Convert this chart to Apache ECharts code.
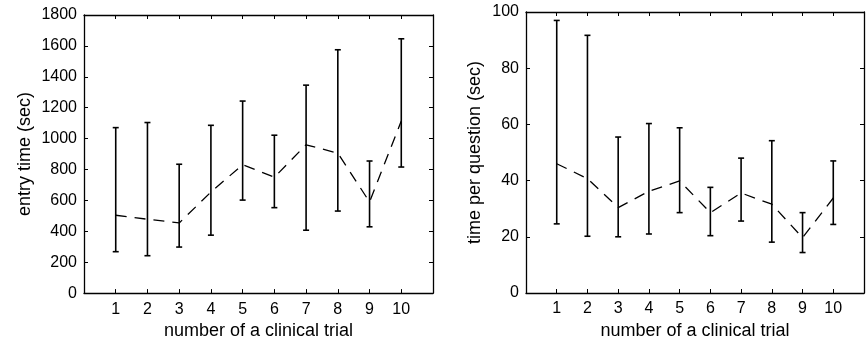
<!DOCTYPE html>
<html><head><meta charset="utf-8">
<script src="https://cdn.jsdelivr.net/npm/echarts@6/dist/echarts.min.js"></script>
<style>html,body{margin:0;padding:0;background:#fff}#c{width:867px;height:345px}</style>
</head><body><div id="c"></div>
<script>
const trials = [1, 2, 3, 4, 5, 6, 7, 8, 9, 10];
const entryMean = [504, 478, 454, 654, 831, 750, 960, 906, 590, 1114];
const entryLow = [268, 242, 298, 375, 602, 553, 407, 531, 429, 816];
const entryHigh = [1071, 1104, 834, 1086, 1243, 1022, 1346, 1575, 855, 1646];
const qMean = [46, 40.7, 30.4, 36.2, 39.9, 28.6, 35.6, 31.6, 19.7, 33.8];
const qLow = [24.6, 20.2, 20, 21, 28.6, 20.4, 25.6, 18.1, 14.4, 24.4];
const qHigh = [97, 91.7, 55.5, 60.3, 58.8, 37.6, 48, 54.2, 28.6, 47];
const entryTicks = [0, 200, 400, 600, 800, 1000, 1200, 1400, 1600, 1800];
const qTicks = [0, 20, 40, 60, 80, 100];
const xName = 'number of a clinical trial';
const yName1 = 'entry time (sec)';
const yName2 = 'time per question (sec)';

const FONT = "'Liberation Sans', Arial, Helvetica, sans-serif";
const chart = echarts.init(document.getElementById('c'), null, {renderer: 'canvas'});

function errRender(params, api) {
  const x = api.value(0), lo = api.value(1), hi = api.value(2);
  const pl = api.coord([x, lo]), ph = api.coord([x, hi]);
  const w = 3;
  const style = {stroke: '#000', lineWidth: 1.6};
  return {type: 'group', children: [
    {type: 'line', shape: {x1: pl[0], y1: pl[1], x2: ph[0], y2: ph[1]}, style: style},
    {type: 'line', shape: {x1: pl[0] - w, y1: pl[1], x2: pl[0] + w, y2: pl[1]}, style: style},
    {type: 'line', shape: {x1: ph[0] - w, y1: ph[1], x2: ph[0] + w, y2: ph[1]}, style: style}
  ]};
}

const axisLine = {show: true, onZero: false, lineStyle: {color: '#000', width: 1.3}};
const tick = {show: true, inside: true, length: 4, lineStyle: {color: '#000', width: 1}};
const labelStyle = {color: '#000', fontFamily: FONT, fontSize: 16};
const nameStyle = {color: '#000', fontFamily: FONT, fontSize: 18};

function xAxes(g) {
  return [
    {type: 'value', gridIndex: g, min: 0, max: 11, interval: 1, position: 'bottom',
     axisLine: axisLine, axisTick: tick, splitLine: {show: false},
     axisLabel: Object.assign({margin: 8, formatter: v => (v >= 1 && v <= 10) ? String(v) : ''}, labelStyle),
     name: xName, nameLocation: 'middle', nameGap: 28, nameTextStyle: nameStyle},
    {type: 'value', gridIndex: g, min: 0, max: 11, interval: 1, position: 'top',
     axisLine: axisLine, axisTick: tick, splitLine: {show: false}, axisLabel: {show: false}}
  ];
}
function yAxes(g, ticks, name, gap) {
  const mx = ticks[ticks.length - 1], iv = ticks[1] - ticks[0];
  return [
    {type: 'value', gridIndex: g, min: ticks[0], max: mx, interval: iv, position: 'left',
     axisLine: axisLine, axisTick: tick, splitLine: {show: false},
     axisLabel: Object.assign({margin: 7, formatter: v => String(v)}, labelStyle),
     name: name, nameLocation: 'middle', nameGap: gap, nameTextStyle: nameStyle},
    {type: 'value', gridIndex: g, min: ticks[0], max: mx, interval: iv, position: 'right',
     axisLine: axisLine, axisTick: tick, splitLine: {show: false}, axisLabel: {show: false}}
  ];
}

const option = {
  backgroundColor: '#fff',
  animation: false,
  grid: [
    {left: 84, top: 15, width: 349, height: 280, containLabel: false},
    {left: 526, top: 12, width: 349, height: 281, containLabel: false}
  ],
  xAxis: [...xAxes(0), ...xAxes(1)],
  yAxis: [...yAxes(0, entryTicks, yName1, 50), ...yAxes(1, qTicks, yName2, 42)],
  series: [
    {type: 'custom', xAxisIndex: 0, yAxisIndex: 0, renderItem: errRender,
     data: trials.map((t, i) => [t, entryLow[i], entryHigh[i]]), z: 3},
    {type: 'line', xAxisIndex: 0, yAxisIndex: 0, showSymbol: false, symbol: 'none',
     lineStyle: {color: '#000', width: 1.3, type: [11, 8]},
     data: trials.map((t, i) => [t, entryMean[i]]), z: 2},
    {type: 'custom', xAxisIndex: 2, yAxisIndex: 2, renderItem: errRender,
     data: trials.map((t, i) => [t, qLow[i], qHigh[i]]), z: 3},
    {type: 'line', xAxisIndex: 2, yAxisIndex: 2, showSymbol: false, symbol: 'none',
     lineStyle: {color: '#000', width: 1.3, type: [11, 8]},
     data: trials.map((t, i) => [t, qMean[i]]), z: 2}
  ]
};
chart.setOption(option);
</script>
</body></html>
